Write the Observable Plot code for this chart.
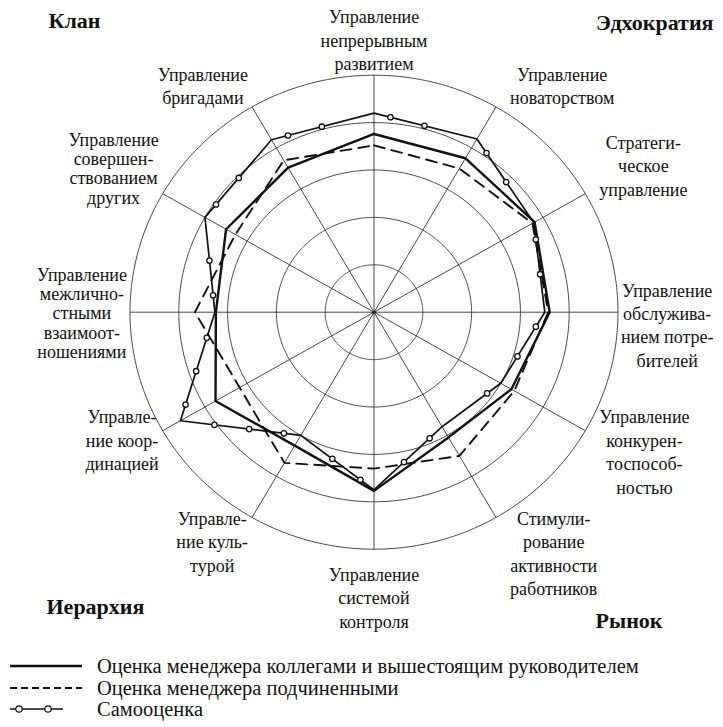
<!DOCTYPE html>
<html>
<head>
<meta charset="utf-8">
<script src="https://cdn.jsdelivr.net/npm/d3@7"></script>
<script src="https://cdn.jsdelivr.net/npm/@observablehq/plot@0.6"></script>
<style>
  html, body { margin: 0; padding: 0; background: #fff; }
  body { font-family: "Liberation Serif", "Times New Roman", serif; width: 723px; }
  #legend svg, #chart svg { display: block; }
</style>
</head>
<body>
<div id="chart"></div>
<div id="legend"></div>
<script>
// ---------------- data ----------------
const categories = [
  "Управление\nнепрерывным\nразвитием",
  "Управление\nноваторством",
  "Стратеги-\nческое\nуправление",
  "Управление\nобслужива-\nнием потре-\nбителей",
  "Управление\nконкурен-\nтоспособ-\nностью",
  "Стимули-\nрование\nактивности\nработников",
  "Управление\nсистемой\nконтроля",
  "Управле-\nние куль-\nтурой",
  "Управле-\nние коор-\nдинацией",
  "Управление\nмежлично-\nстными\nвзаимоот-\nношениями",
  "Управление\nсовершен-\nствованием\nдругих",
  "Управление\nбригадами"
];
const colleagues     = [3.76, 3.75, 3.80, 3.60, 3.25, 3.05, 3.77, 3.25, 3.75, 3.24, 3.50, 3.52];
const subordinates   = [3.52, 3.50, 3.75, 3.57, 3.32, 3.50, 3.30, 3.67, 3.18, 3.67, 3.28, 3.70];
const selfAssessment = [4.20, 4.22, 3.78, 3.50, 3.00, 2.79, 3.75, 3.00, 4.58, 3.26, 4.00, 4.20];
const ringLevels = [1, 2, 3, 4, 5];
const seriesNames = [
  "Оценка менеджера коллегами и вышестоящим руководителем",
  "Оценка менеджера подчиненными",
  "Самооценка"
];
const quadrantNames = ["Клан", "Эдхократия", "Иерархия", "Рынок"];

// ---------------- layout ----------------
const W = 723, H = 640;
const cx = 373.5, cy = 311.7, RX = 244, RY = 237;
const maxR = d3.max(ringLevels);
const N = categories.length;
const FONT = "Liberation Serif";
const labelSize = 18;

const ang = i => i * 2 * Math.PI / N;
const polar = (i, r) => ({x: r * Math.sin(ang(i)), y: r * Math.cos(ang(i))});
const toPx = p => ({px: cx + p.x * RX / maxR, py: cy - p.y * RY / maxR});
const toData = (px, py) => ({x: (px - cx) * maxR / RX, y: (cy - py) * maxR / RY});

// rings
const ringPts = ringLevels.flatMap(l => d3.range(0, 361, 1).map(a => ({
  ring: l, x: l * Math.sin(a * Math.PI / 180), y: l * Math.cos(a * Math.PI / 180)
})));

// series polygons
const poly = (vals, name) => vals.map((v, i) => ({series: name, i, v, ...polar(i, v)}));
const sColl = poly(colleagues, seriesNames[0]);
const sSub = poly(subordinates, seriesNames[1]);
const sSelf = poly(selfAssessment, seriesNames[2]);

// markers along self-assessment segments (pixel arc length)
const markers = [];
for (let i = 0; i < N; i++) {
  const a = sSelf[i], b = sSelf[(i + 1) % N];
  const pa = toPx(a), pb = toPx(b);
  const L = Math.hypot(pb.px - pa.px, pb.py - pa.py);
  for (let d = 17; d <= L - 24; d += 35) {
    const t = d / L;
    markers.push({x: a.x + t * (b.x - a.x), y: a.y + t * (b.y - a.y)});
  }
}

// label placement
const ctx = document.createElement("canvas").getContext("2d");
ctx.font = `${labelSize}px "${FONT}"`;
const labels = categories.map((c, i) => {
  const s = Math.sin(ang(i)), co = Math.cos(ang(i));
  const {px, py} = toPx(polar(i, maxR));
  const lines = c.split("\n");
  const w = d3.max(lines, l => ctx.measureText(l).width);
  const lh = (lines.length >= 4 && s < -0.1) ? 1.07 : 1.3;
  let x = px, y = py, anchor;
  if (Math.abs(s) < 0.1) {
    anchor = co > 0 ? "bottom" : "top";
    y = co > 0 ? py - 5 : py + 15;
  } else if (Math.abs(co) < 0.1) {
    anchor = "middle";
    x = s > 0 ? Math.min(px + 14 + w / 2, W - 10 - w / 2) : px - 3 - w / 2;
    y = s > 0 ? py + 12 : py + 1;
  } else {
    x = s > 0 ? px + 14 + w / 2 : px - 4 - w / 2;
    const steep = Math.abs(co) > 0.7;
    if (co > 0) { anchor = "bottom"; y = py + (steep ? -3 : (s < 0 ? 10 : 2)); }
    else { anchor = "top"; y = py + (steep ? -9 : -24); }
  }
  return {text: c, anchor, lh, ...toData(x, y)};
});

const labelMark = (a, lh) => Plot.text(labels.filter(d => d.anchor === a && d.lh === lh), {
  x: "x", y: "y", text: "text", textAnchor: "middle", lineAnchor: a,
  lineHeight: lh, fontSize: labelSize, fontFamily: FONT, fill: "#111"
});

const corner = (name, frameAnchor, textAnchor, dx, dy) =>
  Plot.text([name], {text: d => d, frameAnchor, textAnchor, lineAnchor: "middle", dx, dy,
    fontSize: 22, fontWeight: "bold", fontFamily: FONT, fill: "#111"});

const chart = Plot.plot({
  width: W, height: H, margin: 0,
  x: {domain: [-maxR, maxR], range: [cx - RX, cx + RX], axis: null},
  y: {domain: [-maxR, maxR], range: [cy + RY, cy - RY], axis: null},
  style: {fontFamily: FONT, background: "#fff"},
  marks: [
    Plot.line(ringPts, {x: "x", y: "y", z: "ring", stroke: "#333", strokeWidth: 0.9}),
    Plot.link(d3.range(N), {
      x1: () => 0, y1: () => 0,
      x2: i => polar(i, maxR).x, y2: i => polar(i, maxR).y,
      stroke: "#333", strokeWidth: 0.9
    }),
    Plot.line(sSub, {x: "x", y: "y", curve: "linear-closed", stroke: "#111",
      strokeWidth: 1.9, strokeDasharray: "11,7"}),
    Plot.line(sColl, {x: "x", y: "y", curve: "linear-closed", stroke: "#111", strokeWidth: 2.4}),
    Plot.line(sSelf, {x: "x", y: "y", curve: "linear-closed", stroke: "#111", strokeWidth: 1.7}),
    Plot.dot(markers, {x: "x", y: "y", r: 2.7, fill: "#fff", stroke: "#111", strokeWidth: 1.3}),
    Plot.dot([0], {x: () => 0, y: () => 0, r: 1.8, fill: "#222"}),
    labelMark("bottom", 1.3),
    labelMark("bottom", 1.07),
    labelMark("middle", 1.3),
    labelMark("middle", 1.07),
    labelMark("top", 1.3),
    labelMark("top", 1.07),
    corner(quadrantNames[0], "top-left", "start", 48, 20),
    corner(quadrantNames[1], "top-right", "end", -10, 22),
    corner(quadrantNames[2], "bottom-left", "start", 46, -34),
    corner(quadrantNames[3], "bottom-right", "end", -61, -20)
  ]
});
document.getElementById("chart").append(chart);

// ---------------- legend ----------------
const lg = d3.select("#legend").append("svg").attr("width", W).attr("height", 87);
const rows = [
  {name: seriesNames[0], y: 26, dash: null, w: 2.4, marks: false},
  {name: seriesNames[1], y: 48, dash: "7,4", w: 2.2, marks: false},
  {name: seriesNames[2], y: 69, dash: null, w: 1.4, marks: true}
];
rows.forEach(r => {
  lg.append("line").attr("x1", 10).attr("x2", r.marks ? 63 : 82)
    .attr("y1", r.y).attr("y2", r.y).attr("stroke", "#111")
    .attr("stroke-width", r.w).attr("stroke-dasharray", r.dash);
  if (r.marks) [19, 48].forEach(x => lg.append("circle").attr("cx", x).attr("cy", r.y)
    .attr("r", 3.2).attr("fill", "#fff").attr("stroke", "#111").attr("stroke-width", 1.2));
  lg.append("text").attr("x", 97).attr("y", r.y).attr("dy", "0.35em")
    .attr("font-family", FONT).attr("font-size", 20.5).attr("fill", "#111").text(r.name);
});
</script>
</body>
</html>
